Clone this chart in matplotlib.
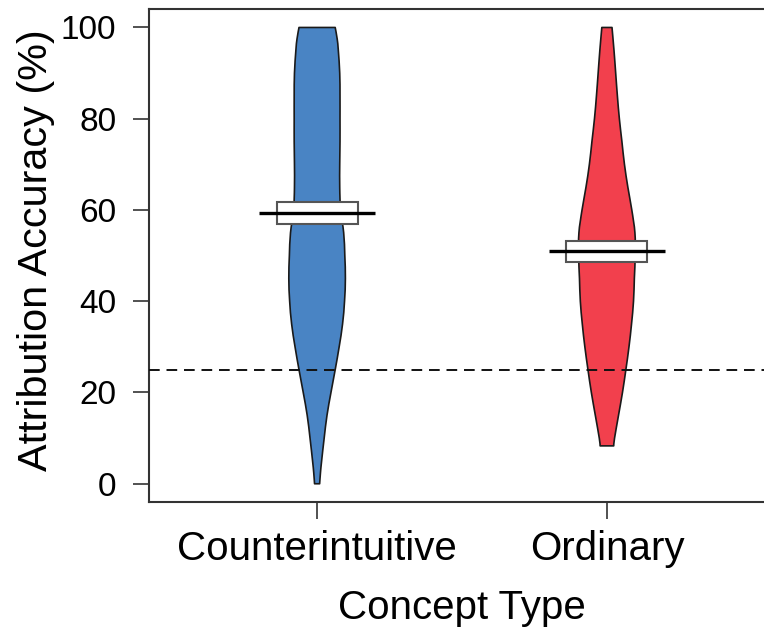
import matplotlib
matplotlib.use('Agg')
import matplotlib.pyplot as plt
from matplotlib.path import Path
from matplotlib.patches import PathPatch
import numpy as np

plt.rcParams['font.family'] = ['Liberation Sans', 'DejaVu Sans']

# ---- data ----
categories = ['Counterintuitive', 'Ordinary']
means = [59.4, 51.0]
ci_low = [57.0, 48.6]
ci_high = [61.7, 53.3]
chance_level = 25
y_ticks = [0, 20, 40, 60, 80, 100]

# violin outlines: accuracy values and relative density (max = 1)
counter_y = [0, 2.5, 5, 10, 15, 20, 25, 30, 35, 40, 45, 50, 55, 60, 65, 70,
             75, 80, 85, 90, 95, 97.5, 100]
counter_density = [0.09, 0.12, 0.16, 0.25, 0.35, 0.49, 0.64, 0.78, 0.90, 0.97,
                   1.00, 0.98, 0.94, 0.83, 0.80, 0.80, 0.81, 0.81, 0.81, 0.80,
                   0.75, 0.71, 0.64]
ordinary_y = [8.3, 10, 15, 20, 25, 30, 35, 40, 45, 50, 55, 60, 65, 70, 75, 80,
              85, 90, 95, 100]
ordinary_density = [0.24, 0.27, 0.41, 0.55, 0.67, 0.78, 0.87, 0.94, 0.97, 1.00,
                    0.99, 0.88, 0.74, 0.62, 0.53, 0.44, 0.37, 0.31, 0.25, 0.18]

violin_y = [counter_y, ordinary_y]
violin_d = [counter_density, ordinary_density]
colors = ['#4984C4', '#F2404D']


def bezier_side(pts):
    """Smooth Catmull-Rom curve through the given points as Bezier segments."""
    verts = []
    n = len(pts)
    for i in range(n - 1):
        p0 = pts[i - 1] if i > 0 else pts[i]
        p1 = pts[i]
        p2 = pts[i + 1]
        p3 = pts[i + 2] if i + 2 < n else pts[i + 1]
        verts += [p1 + (p2 - p0) / 6.0, p2 - (p3 - p1) / 6.0, p2]
    return verts


def violin_path(pos, ys, ds, half_w):
    ys = np.asarray(ys, float)
    ds = np.asarray(ds, float)
    right = np.column_stack([pos + half_w * ds, ys])          # bottom -> top
    left = np.column_stack([pos - half_w * ds, ys])[::-1]     # top -> bottom
    verts = [right[0]] + bezier_side(right) + [left[0]] + bezier_side(left) + [right[0]]
    n = len(ys)
    codes = ([Path.MOVETO] + [Path.CURVE4] * 3 * (n - 1) + [Path.LINETO]
             + [Path.CURVE4] * 3 * (n - 1) + [Path.CLOSEPOLY])
    return Path(np.array(verts), codes)


# ---- figure ----
fig = plt.figure(figsize=(7.64, 6.37), dpi=100)
ax = fig.add_axes([0.19503, 0.21193, 0.80497, 0.7736])

half_w = 0.0976
for i, (ys, ds) in enumerate(zip(violin_y, violin_d)):
    ax.add_patch(PathPatch(violin_path(i + 1, ys, ds, half_w),
                           facecolor=colors[i], edgecolor='#1a1a1a',
                           linewidth=1.2, joinstyle='round', zorder=2))

ax.axhline(chance_level, color='#111111', lw=1.4, dashes=(5.5, 3.5), zorder=3)

box_w = 0.28
line_w = 0.40
for i in range(len(categories)):
    pos = i + 1
    ax.add_patch(plt.Rectangle((pos - box_w / 2, ci_low[i]), box_w,
                               ci_high[i] - ci_low[i], facecolor='white',
                               edgecolor='#555555', linewidth=1.5, zorder=4))
    ax.plot([pos - line_w / 2, pos + line_w / 2], [means[i], means[i]],
            color='black', lw=2.4, solid_capstyle='butt', zorder=5)

ax.set_xlim(0.42, 2.542)
ax.set_ylim(-4, 104)
ax.set_xticks([1, 2])
ax.set_xticklabels(categories)
ax.set_yticks(y_ticks)

for s in ax.spines.values():
    s.set_color('#333333')
    s.set_linewidth(1.5)
ax.spines['right'].set_visible(False)

ax.tick_params(axis='y', length=11.5, width=1.2, pad=12, labelsize=24,
               color='#333333')
ax.tick_params(axis='x', length=12.5, width=1.2, pad=7.5, labelsize=29,
               color='#333333')

ax.set_ylabel('Attribution Accuracy (%)', fontsize=29.8)
ax.yaxis.set_label_coords(-94 / 615.0, 0.512)
ax.set_xlabel('Concept Type', fontsize=29)
ax.xaxis.set_label_coords(313 / 615.0, -0.176)

fig.savefig('out.png', dpi=100)
